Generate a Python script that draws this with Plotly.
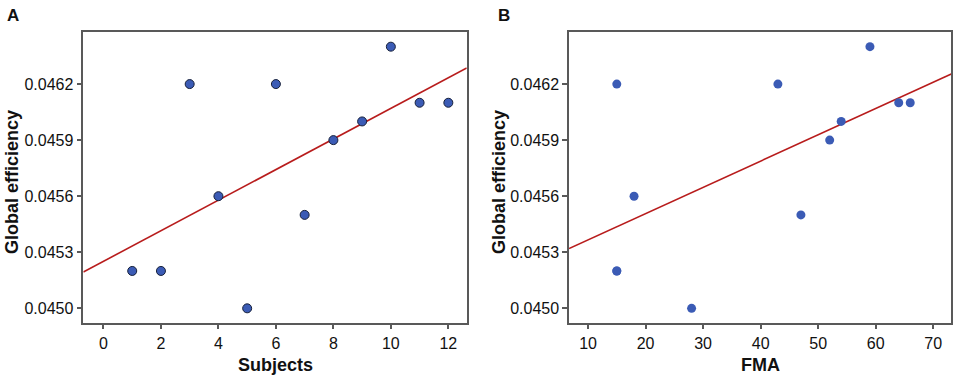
import numpy as np
import plotly.graph_objects as go

# ---- data ----
subjects = [1, 2, 3, 4, 5, 6, 7, 8, 9, 10, 11, 12]
ge_a = [0.0452, 0.0452, 0.0462, 0.0456, 0.0450, 0.0462, 0.0455, 0.0459, 0.0460, 0.0464, 0.0461, 0.0461]
fma = [15, 15, 15, 18, 28, 43, 47, 52, 54, 59, 64, 66]
ge_b = [0.0452, 0.0452, 0.0462, 0.0456, 0.0450, 0.0462, 0.0455, 0.0459, 0.0460, 0.0464, 0.0461, 0.0461]
y_ticks = [0.0450, 0.0453, 0.0456, 0.0459, 0.0462]
y_tick_text = ["0.0450", "0.0453", "0.0456", "0.0459", "0.0462"]
xa_ticks = [0, 2, 4, 6, 8, 10, 12]
xb_ticks = [10, 20, 30, 40, 50, 60, 70]
panel_labels = ["A", "B"]
x_titles = ["Subjects", "FMA"]
y_title = "Global efficiency"

xa_range = [-0.70, 12.64]
xb_range = [6.70, 73.13]
y_range = [0.044923, 0.046477]

W, H = 957, 384
FONT = "Liberation Sans, Arial, sans-serif"
MARK = "#3b5bb5"
LINE = "#b81c1c"
AX = "#595959"

def fit_line(x, y, rng):
    k, b = np.polyfit(np.array(x, float), np.array(y, float), 1)
    xs = np.array(rng)
    return xs, k * xs + b

fig = go.Figure()
xs, ys = fit_line(subjects, ge_a, xa_range)
fig.add_trace(go.Scatter(x=xs, y=ys, mode="lines", line=dict(color=LINE, width=1.6),
                         xaxis="x", yaxis="y", showlegend=False, hoverinfo="skip"))
fig.add_trace(go.Scatter(x=subjects, y=ge_a, mode="markers",
                         marker=dict(size=9, color=MARK, line=dict(color="#16203a", width=1)),
                         xaxis="x", yaxis="y", showlegend=False))
xs, ys = fit_line(fma, ge_b, xb_range)
fig.add_trace(go.Scatter(x=xs, y=ys, mode="lines", line=dict(color=LINE, width=1.6),
                         xaxis="x2", yaxis="y2", showlegend=False, hoverinfo="skip"))
fig.add_trace(go.Scatter(x=fma, y=ge_b, mode="markers",
                         marker=dict(size=9, color=MARK, line=dict(width=0)),
                         xaxis="x2", yaxis="y2", showlegend=False))

common_axis = dict(showline=True, mirror=True, linecolor=AX, linewidth=1.5,
                   ticks="outside", ticklen=5, tickcolor=AX, tickwidth=1.5,
                   showgrid=False, zeroline=False, automargin=False,
                   tickfont=dict(family=FONT, size=16, color="#111"))

def px_x(p):
    return p / W

def px_y(p):
    return 1 - p / H

ann = []
title_font = dict(family=FONT, size=18, color="#111")
for lab, lx in zip(panel_labels, [13, 504.5]):
    ann.append(dict(text="<b>%s</b>" % lab, x=px_x(lx), y=px_y(16), xref="paper", yref="paper",
                    xanchor="center", yanchor="middle", showarrow=False,
                    font=dict(family=FONT, size=17, color="#111")))
for t, cx in zip(x_titles, [275, 760]):
    ann.append(dict(text="<b>%s</b>" % t, x=px_x(cx), y=px_y(365), xref="paper", yref="paper",
                    xanchor="center", yanchor="middle", showarrow=False, font=title_font))
for cx in [12, 499]:
    ann.append(dict(text="<b>%s</b>" % y_title, x=px_x(cx), y=px_y(182), xref="paper", yref="paper",
                    xanchor="center", yanchor="middle", textangle=-90, showarrow=False,
                    font=title_font))

fig.update_layout(
    width=W, height=H,
    margin=dict(l=0, r=0, t=0, b=0),
    paper_bgcolor="white", plot_bgcolor="white",
    xaxis=dict(domain=[0.0871, 0.4877], range=xa_range, tickvals=xa_ticks, anchor="y", **common_axis),
    yaxis=dict(domain=[0.1596, 0.9159], range=y_range, tickvals=y_ticks, ticktext=y_tick_text,
               anchor="x", **common_axis),
    xaxis2=dict(domain=[0.5946, 0.9940], range=xb_range, tickvals=xb_ticks, anchor="y2", **common_axis),
    yaxis2=dict(domain=[0.1596, 0.9159], range=y_range, tickvals=y_ticks, ticktext=y_tick_text,
                anchor="x2", **common_axis),
    annotations=ann,
)

fig.write_html("out.html", config={"displayModeBar": False},
               post_script="document.body.style.margin='0';")
